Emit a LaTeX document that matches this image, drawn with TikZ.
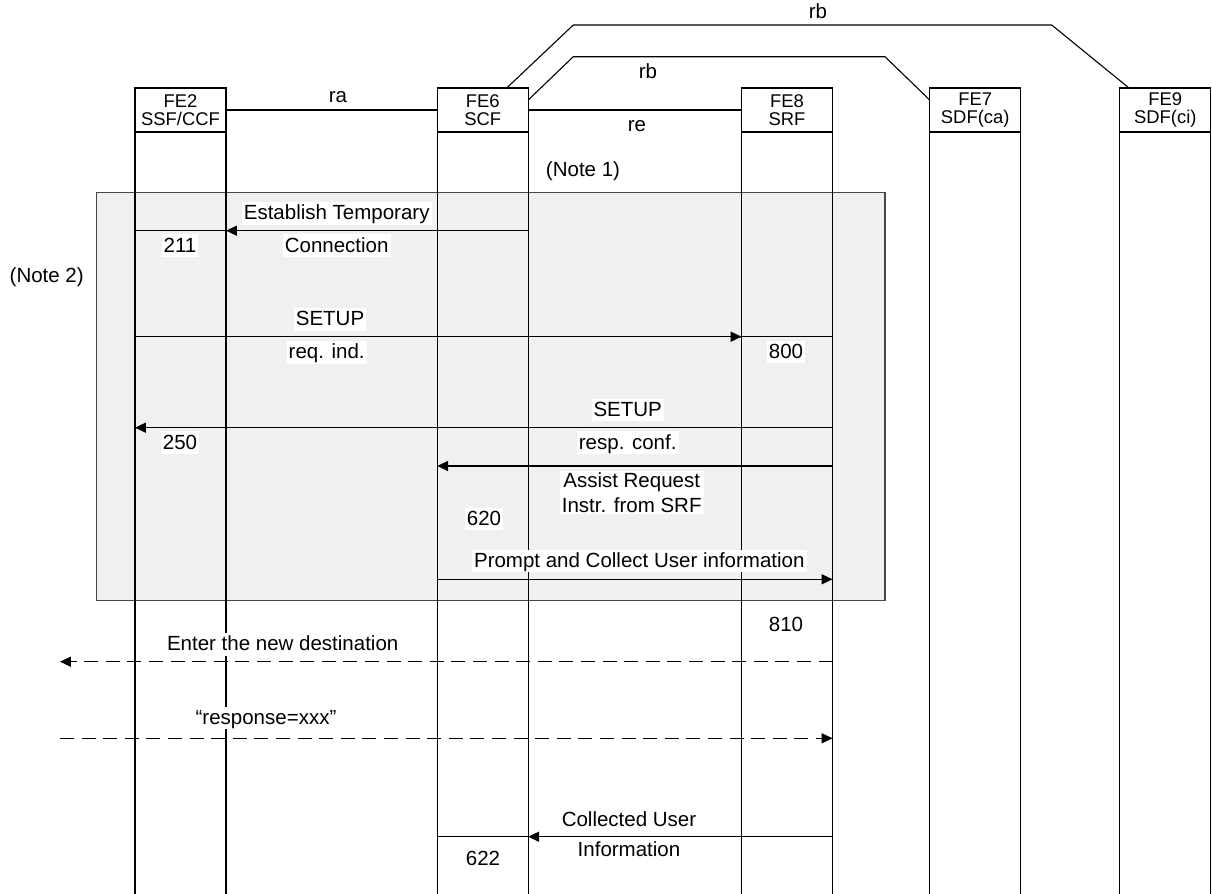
\documentclass[tikz,border=0pt]{standalone}
\usepackage{fontspec}
\setmainfont{Liberation Sans}
\usetikzlibrary{arrows.meta,calc}

\begin{document}
\begin{tikzpicture}[x=0.5pt,y=-0.5pt,line width=0.55pt,
  fe/.style={draw,fill=white,minimum width=45.5pt,minimum height=22pt,inner sep=0pt,
    outer sep=0pt,align=center,font=\fontsize{9.2}{9.2}\selectfont},
  lbl/.style={fill=white,inner sep=1pt,font=\fontsize{10.25}{12}\selectfont,
    text height=1.5ex,text depth=.25ex},
  lbltwo/.style={fill=white,inner sep=1pt,align=center,font=\fontsize{10.25}{12.2}\selectfont},
  msg/.style={-{Triangle[length=5.4pt,width=5pt]}},
  dsh/.style={msg,dash pattern=on 7pt off 3.8pt}]
% Flow: FE2 / FE6 / FE8 / FE7 / FE9 lifelines, shaded block = temporary connection phase.
\useasboundingbox (0,0) rectangle (1212,894);
\def\yA{230.7}
\def\yB{336.7}
\def\yC{427.7}
\def\yD{466}
\def\yE{579.3}
\def\yF{661.7}
\def\yG{738.3}
\def\yH{836.7}
\fill[black!6] (96.7,192.7) rectangle (885,600.7);
\draw[black!72,line width=0.7pt] (96.7,192.7) rectangle (885,600.7);
\node[fe] (fe2) at (180.5,110) {FE2\\SSF/CCF};
\node[fe] (fe6) at (482.7,110) {FE6\\SCF};
\node[fe] (fe8) at (787,110) {FE8\\SRF};
\node[fe] (fe7) at (975.2,110) {FE7\\SDF(ca)};
\node[fe] (fe9) at (1165.3,110) {FE9\\SDF(ci)};
\coordinate (bot) at (0,894);
\coordinate (usr) at (60,0);
\foreach \n in {fe2,fe6,fe8,fe7,fe9} {
  \draw (\n.south west) -- (\n.south west |- bot);
  \draw (\n.south east) -- (\n.south east |- bot);
}
% interfaces
\draw (fe2.east) -- (fe6.west);
\draw (fe6.east) -- (fe8.west);
\draw (fe6.north -| 506.7,0) -- (573.3,25) -- (1051.7,25) -- (fe9.north -| 1129,0);
\draw (fe6.east |- 0,100) -- (573.3,56.7) -- (885,56.7) -- (fe7.west |- 0,100);
\node[lbl, fill=none] (ra) at (338,96) {ra};
\node[lbl, fill=none] (re) at (637,125) {re};
\node[lbl, fill=none] (rbi) at (648,72) {rb};
\node[lbl, fill=none] (rbo) at (818,12) {rb};
% messages
\draw[msg] (fe6.south east |- 0,\yA) -- (fe2.south east |- 0,\yA);
\draw (fe2.south east |- 0,\yA) -- (fe2.south west |- 0,\yA);
\draw[msg] (fe2.south west |- 0,\yB) -- (fe8.south west |- 0,\yB);
\draw (fe8.south west |- 0,\yB) -- (fe8.south east |- 0,\yB);
\draw[msg] (fe8.south east |- 0,\yC) -- (fe2.south west |- 0,\yC);
\draw[msg] (fe8.south east |- 0,\yD) -- (fe6.south west |- 0,\yD);
\draw[msg] (fe6.south west |- 0,\yE) -- (fe8.south east |- 0,\yE);
\draw[dsh] (fe8.south east |- 0,\yF) -- (usr |- 0,\yF);
\draw[dsh] (usr |- 0,\yG) -- (fe8.south east |- 0,\yG);
\draw[msg] (fe8.south east |- 0,\yH) -- (fe6.south east |- 0,\yH);
\draw (fe6.south east |- 0,\yH) -- (fe6.south west |- 0,\yH);
% labels
\node[lbl, fill=none] (n1) at (583,170) {(Note 1)};
\node[lbl, fill=none] (n2) at (46.7,275.7) {(Note 2)};
\node[lbl] (etc) at (336.7,213.3) {Establish Temporary};
\node[lbl] (etcb) at (336.7,245.7) {Connection};
\node[lbl] (c211) at (180,245.7) {211};
\node[lbl] (sreq) at (330,319.3) {SETUP};
\node[lbl] (sreqb) at (326.7,352.3) {req. ind.};
\node[lbl] (c800) at (786,352) {800};
\node[lbl] (sres) at (627.7,410) {SETUP};
\node[lbl] (sresb) at (627.7,442.7) {resp. conf.};
\node[lbl] (c250) at (180,442.7) {250};
\node[lbltwo] (ar) at (631.7,492.5) {Assist Request\\Instr. from SRF};
\node[lbl] (c620) at (484,519) {620};
\node[lbl] (pc) at (639.3,561) {Prompt and Collect User information};
\node[lbl, fill=none] (c810) at (786,625) {810};
\node[lbl] (ent) at (282.7,644.3) {Enter the new destination};
\node[lbl] (resp) at (266,718) {“response=xxx”};
\node[lbl] (cu) at (629,820) {Collected User};
\node[lbl] (cub) at (629,850) {Information};
\node[lbl] (c622) at (483,859) {622};
\end{tikzpicture}
\end{document}
